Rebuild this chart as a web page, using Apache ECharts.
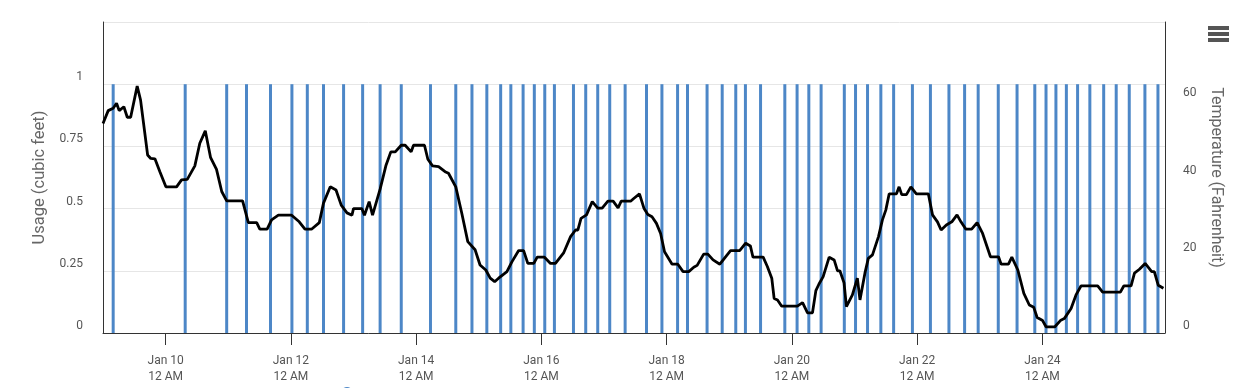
<!DOCTYPE html>
<html>
<head>
<meta charset="utf-8">
<script src="https://cdn.jsdelivr.net/npm/echarts@6/dist/echarts.min.js"></script>
<style>
html,body{margin:0;padding:0;background:#fff;}
#chart{width:1248px;height:388px;}
</style>
</head>
<body>
<div id="chart"></div>
<script>
// Hours since Jan 9, 12 AM
const usageHours = [3.9, 31.5, 47.4, 55.0, 64.2, 72.4, 78.3, 84.5, 92.2, 99.5,
  106.2, 114.3, 125.5, 135.2, 141.4, 147.1, 152.4, 156.3, 161.0, 165.3,
  169.3, 173.0, 180.3, 185.0, 189.6, 194.2, 200.1, 208.3, 214.2, 220.2,
  224.0, 231.5, 237.3, 242.5, 246.2, 252.0, 261.3, 266.0, 270.5, 275.2,
  284.1, 288.4, 293.0, 298.1, 303.0, 310.2, 317.1, 324.2, 330.2, 335.4,
  343.1, 350.3, 357.1, 361.4, 365.2, 369.2, 373.5, 378.2, 383.5, 388.3,
  393.3, 399.3, 404.3];
const usageValues = [1, 1, 1, 1, 1, 1, 1, 1, 1, 1,
  1, 1, 1, 1, 1, 1, 1, 1, 1, 1,
  1, 1, 1, 1, 1, 1, 1, 1, 1, 1,
  1, 1, 1, 1, 1, 1, 1, 1, 1, 1,
  1, 1, 1, 1, 1, 1, 1, 1, 1, 1,
  1, 1, 1, 1, 1, 1, 1, 1, 1, 1,
  1, 1, 1];

const tempHours = [0, 2, 3.9, 5.2, 6.2, 8, 9.3, 10.6, 13.1, 14.4, 17.1, 18.3, 19.9, 21.8, 24.1, 28.2, 30.1, 32.3, 35.2, 37.1,
  39.2, 41.2, 43.5, 45.5, 47.4, 53.5, 55.7, 58.9, 60.1, 62.9, 64.6, 67.2, 72.3, 75.2, 77.4, 79.9,
  82.9, 84.5, 87.1, 89.3, 91.3, 93.5, 95.4, 96, 99.2, 100.2, 102, 103.3, 106.2, 108.4, 110.3, 112, 114.3, 115.8, 118.1, 119,
  123.2, 124.5, 126.3, 128.6, 131.1, 132.4, 135.2, 137.5, 139.8, 142.6, 144.5, 146.7, 148.4, 150.1, 151.6, 153.1, 154.8, 156.7, 159.3, 161.2,
  162.8, 165.1, 166.4, 169.2, 171.5, 173.4, 176.6, 179.2, 181.1, 182, 183.2, 185.3, 187.5, 189.6, 191.3, 193.5, 195.5, 197.4, 198.6, 202.2,
  203.4, 205.6, 206.2, 207.3, 208.8, 210.4, 212.1, 213.7, 215.2, 218.1, 220.3, 222.3, 224.5, 226.4, 227.7, 230.2, 231.8, 233.8, 236.4, 238.6, 240.5, 244,
  246.3, 248.1, 249.1, 253, 254.6, 256.3, 257.2, 258.5, 260.1, 266.1, 268.1, 270, 271.9, 273.2, 274.4, 276, 278.3, 280.2, 281.5, 282.4,
  284, 284.9, 287.2, 289.1, 290.1, 292, 293.3, 294.9, 297.2, 298.7, 300, 301.3, 304.1, 305.1, 306.1, 307.9, 309.6, 311.7, 316.3, 317.9,
  319.8, 321.2, 323.2, 325.3, 327.3, 328.8, 330.7, 332.9, 335, 337.1, 340.1, 343.2, 344.2, 347, 348.3, 350.6, 352.9, 355, 356.7, 358,
  360.1, 361.4, 364.8, 366.9, 368.4, 371, 372.9, 374.8, 381.2, 383.1, 389.9, 391.2, 394, 395.3, 397.2, 399.4, 401.9, 402.9, 404.4, 406.4];
const tempValues = [53.9, 57.2, 57.8, 59.1, 57.2, 58.2, 55.5, 55.5, 63.5, 59.9, 45.8, 44.9, 44.8, 41.5, 37.6, 37.6, 39.4, 39.5, 43.0, 48.8,
  52.0, 45.2, 42.1, 36.4, 34.0, 34.0, 28.4, 28.4, 26.7, 26.7, 29.1, 30.3, 30.3, 28.6, 26.7, 26.7,
  28.4, 33.4, 37.6, 36.8, 32.9, 30.9, 30.3, 32.0, 32.0, 30.3, 33.8, 30.3, 37.0, 43.0, 46.6, 46.6, 48.3, 48.3, 46.6, 48.3,
  48.3, 44.7, 43.0, 42.8, 41.5, 41.1, 37.6, 30.8, 23.5, 21.4, 17.5, 16.2, 14.1, 13.2, 14.1, 14.9, 15.8, 18.3, 21.2, 21.2,
  17.9, 17.9, 19.5, 19.5, 17.9, 17.9, 20.7, 24.8, 26.5, 26.5, 29.5, 30.4, 33.8, 32.1, 32.1, 33.9, 33.9, 32.2, 33.9, 33.9,
  34.6, 35.8, 35.8, 32.1, 30.5, 29.9, 28.2, 25.6, 20.9, 17.7, 17.7, 15.8, 15.8, 16.9, 17.4, 20.3, 20.3, 18.8, 17.7, 19.6, 21.2, 21.2,
  23.1, 22.4, 19.5, 19.5, 17.1, 14.1, 8.9, 8.5, 6.9, 6.9, 7.8, 5.2, 5.2, 10.9, 12.6, 14.5, 19.5, 18.8, 16.0, 16.0,
  12.9, 6.8, 9.8, 14.1, 8.5, 15.4, 19.2, 20.1, 24.8, 29.1, 31.6, 35.8, 35.8, 37.6, 35.6, 35.6, 37.6, 35.8, 35.8, 30.4,
  28.6, 26.5, 27.8, 28.6, 30.4, 28.6, 26.7, 26.7, 28.4, 25.6, 19.6, 19.6, 17.7, 17.7, 19.5, 16.2, 10.2, 7.2, 6.6, 4.0,
  3.2, 1.6, 1.6, 3.2, 3.7, 6.3, 9.8, 12.1, 12.1, 10.5, 10.5, 12.1, 12.1, 15.4, 16.4, 17.9, 15.8, 15.8, 12.3, 11.5];

const xTickHours = [24, 72, 120, 168, 216, 264, 312, 360];
const xTickLabels = ['Jan 10\n12 AM', 'Jan 12\n12 AM', 'Jan 14\n12 AM', 'Jan 16\n12 AM',
  'Jan 18\n12 AM', 'Jan 20\n12 AM', 'Jan 22\n12 AM', 'Jan 24\n12 AM'];
const usageTicks = ['0', '0.25', '0.5', '0.75', '1', ''];
const tempTicks = ['0', '20', '40', '60', ''];

const END_HOURS = 407;

const barData = usageHours.map((h, i) => [h, usageValues[i]]);
const lineData = tempHours.map((h, i) => [h, tempValues[i]]);

const chart = echarts.init(document.getElementById('chart'), null, {renderer: 'canvas'});
const font = 'Roboto, "Noto Sans", sans-serif';
chart.setOption({
  animation: false,
  backgroundColor: '#ffffff',
  textStyle: {fontFamily: font},
  grid: {left: 103, right: 83, top: 22, bottom: 55, containLabel: false, outerBoundsMode: 'none'},
  xAxis: {
    type: 'value',
    min: 0,
    max: END_HOURS,
    axisLine: {show: true, lineStyle: {color: '#333333', width: 1}},
    axisTick: {show: true, customValues: xTickHours, length: 12, lineStyle: {color: '#333333'}},
    axisLabel: {
      customValues: xTickHours,
      color: '#555555', fontSize: 12, fontFamily: font, lineHeight: 16, margin: 20,
      formatter: function (v) {
        const i = xTickHours.indexOf(Math.round(v));
        return i >= 0 ? xTickLabels[i] : '';
      }
    },
    splitLine: {show: false}
  },
  yAxis: [
    {
      type: 'value', min: 0, max: 1.25, interval: 0.25,
      name: 'Usage (cubic feet)', nameLocation: 'middle', nameGap: 54,
      nameTextStyle: {color: '#666666', fontSize: 16.5, fontFamily: font},
      axisLine: {show: true, lineStyle: {color: '#333333', width: 1}},
      axisTick: {show: false},
      axisLabel: {
        color: '#555555', fontSize: 12, fontFamily: font, margin: 20, verticalAlign: 'bottom', lineHeight: 14,
        formatter: function (v) { return usageTicks[Math.round(v / 0.25)] || ''; }
      },
      splitLine: {show: true, lineStyle: {color: '#e6e6e6', width: 1}}
    },
    {
      type: 'value', min: 0, max: 80, interval: 20, position: 'right',
      name: 'Temperature (Fahrenheit)', nameLocation: 'middle', nameGap: 43, nameRotate: -90,
      nameTextStyle: {color: '#666666', fontSize: 16, fontFamily: font},
      axisLine: {show: true, lineStyle: {color: '#333333', width: 1}},
      axisTick: {show: false},
      axisLabel: {
        color: '#555555', fontSize: 12, fontFamily: font, margin: 18, verticalAlign: 'bottom', lineHeight: 14,
        formatter: function (v) { return tempTicks[Math.round(v / 20)] || ''; }
      },
      splitLine: {show: false}
    }
  ],
  series: [
    {
      name: 'Usage', type: 'bar', yAxisIndex: 0, data: barData,
      barWidth: 3, itemStyle: {color: '#4d87c7'}, z: 2
    },
    {
      name: 'Temperature', type: 'line', yAxisIndex: 1, data: lineData,
      showSymbol: false, symbol: 'none',
      lineStyle: {color: '#000000', width: 2.8}, itemStyle: {color: '#000000'}, z: 3
    }
  ],
  graphic: [
    {type: 'rect', shape: {x: 1208, y: 26, width: 21, height: 4}, style: {fill: '#555555'}},
    {type: 'rect', shape: {x: 1208, y: 32, width: 21, height: 4}, style: {fill: '#555555'}},
    {type: 'rect', shape: {x: 1208, y: 38, width: 21, height: 4}, style: {fill: '#555555'}},
    {type: 'circle', shape: {cx: 347, cy: 393, r: 6}, style: {fill: '#4d87c7'}}
  ]
});
</script>
</body>
</html>
